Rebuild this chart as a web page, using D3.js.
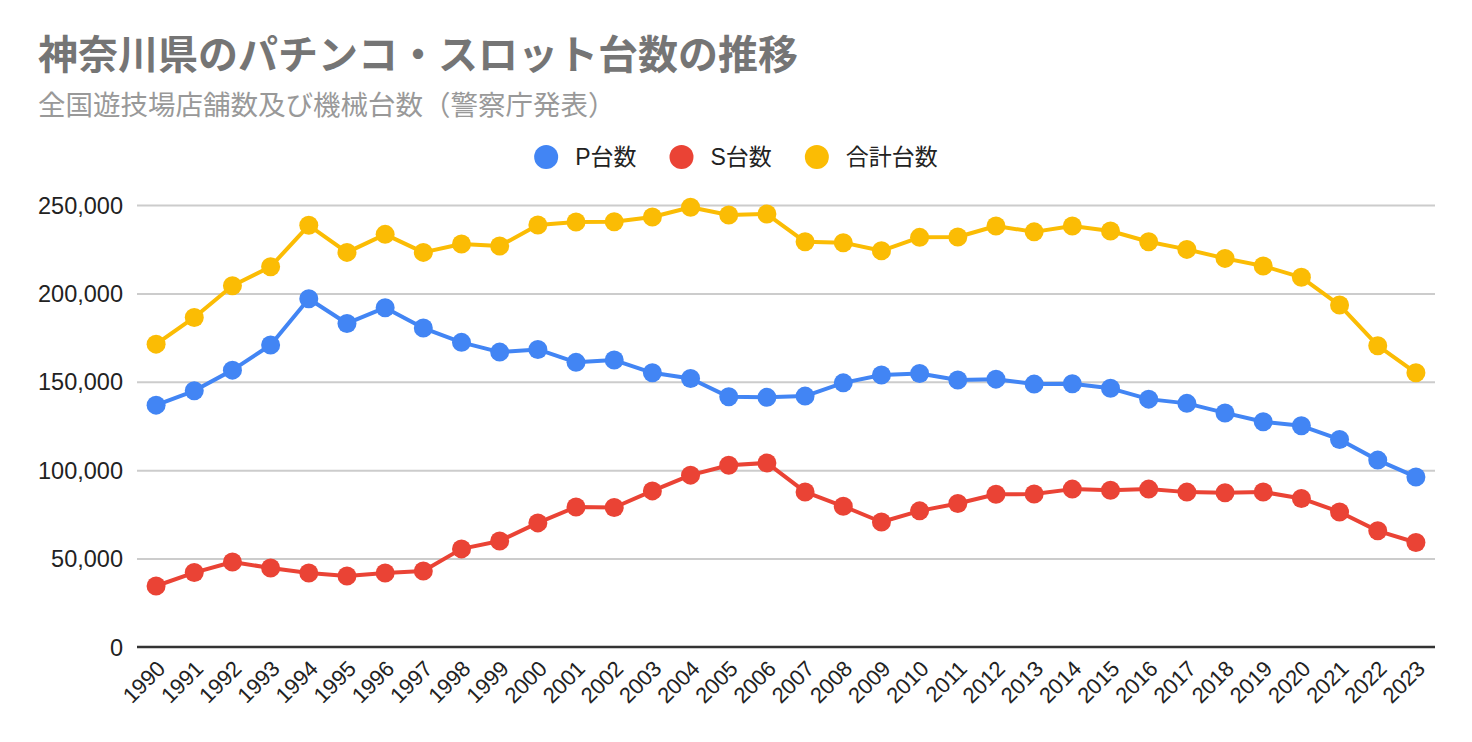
<!DOCTYPE html>
<html>
<head>
<meta charset="utf-8">
<script src="https://cdn.jsdelivr.net/npm/d3@7"></script>
<style>
  html, body { margin: 0; padding: 0; background: #fff; }
  svg { display: block; }
</style>
</head>
<body>
<svg id="chart" width="1472" height="742"></svg>
<script>
const years = ["1990","1991","1992","1993","1994","1995","1996","1997","1998","1999","2000","2001","2002","2003","2004","2005","2006","2007","2008","2009","2010","2011","2012","2013","2014","2015","2016","2017","2018","2019","2020","2021","2022","2023"];
const pValues = [136800,144900,156600,170800,197000,183000,191900,180400,172300,166800,168300,161000,162300,155100,151900,141500,141200,141900,149400,153800,154700,151000,151500,148700,148900,146300,140200,137800,132400,127400,125100,117400,105700,96200];
const sValues = [34500,42100,48100,44700,41900,40200,41900,43000,55500,60000,70200,79200,78900,88300,97200,102800,104100,87700,79600,70700,77000,81200,86400,86500,89300,88700,89300,87600,87200,87700,84000,76400,65700,59100];
const totalValues = [171300,186400,204300,215100,238500,223200,233400,223200,227900,226800,238700,240400,240500,243200,248700,244300,244900,229200,228700,224100,231700,231900,238100,234800,238100,235300,229200,224900,219800,215500,209100,193400,170400,155100];
const seriesNames = ["P台数","S台数","合計台数"];
const seriesColors = ["#4285F4","#EA4335","#FBBC04"];
const yTicks = [0,50000,100000,150000,200000,250000];
const titleText = "神奈川県のパチンコ・スロット台数の推移";
const subtitleText = "全国遊技場店舗数及び機械台数（警察庁発表）";

(function () {
const svg = d3.select("#chart");
const FONT = "'Liberation Sans', Arial, 'Noto Sans CJK JP', sans-serif";
const CJK = "'Noto Sans CJK JP', 'Liberation Sans', sans-serif";

const pLeft = 137, pRight = 1435, pTop = 205, pBottom = 647;

const x = d3.scalePoint().domain(years).range([pLeft, pRight]).padding(0.5);
const y = d3.scaleLinear().domain([0, 250000]).range([pBottom, pTop]);

// Title
svg.append("text").attr("x", 38).attr("y", 69)
  .attr("font-family", CJK).attr("font-weight", "bold").attr("font-size", 40)
  .attr("fill", "#757575").text(titleText);
svg.append("text").attr("x", 38).attr("y", 115)
  .attr("font-family", CJK).attr("font-size", 27.5)
  .attr("fill", "#999999").text(subtitleText);

// Gridlines
const yAxis = d3.axisLeft(y).tickValues(yTicks).tickSize(-(pRight - pLeft)).tickPadding(14)
  .tickFormat(d3.format(","));
const gy = svg.append("g").attr("transform", `translate(${pLeft},0)`).call(yAxis);
gy.select(".domain").remove();
gy.selectAll(".tick line").attr("stroke", "#cccccc").attr("stroke-width", 2)
  .attr("stroke-opacity", d => d === 0 ? 0 : 1);
gy.selectAll(".tick text").attr("font-family", FONT).attr("font-size", 23.5)
  .attr("fill", "#222").attr("dy", "0.34em");

// x axis
const xAxis = d3.axisBottom(x).tickSize(0).tickPadding(0);
const gx = svg.append("g").attr("transform", `translate(0,${pBottom})`).call(xAxis);
gx.select(".domain").attr("stroke", "#333").attr("stroke-width", 2.5)
  .attr("d", `M${pLeft},0H${pRight}`);
gx.selectAll(".tick text")
  .attr("font-family", FONT).attr("font-size", 22).attr("fill", "#222")
  .attr("text-anchor", "end")
  .attr("dy", 0).attr("y", 0)
  .attr("transform", "translate(10,23) rotate(-45)");

// Lines and points
const allSeries = [pValues, sValues, totalValues];
const line = d3.line().x((d, i) => x(years[i])).y(d => y(d));
allSeries.forEach((vals, si) => {
  const g = svg.append("g");
  g.append("path").datum(vals).attr("d", line)
    .attr("fill", "none").attr("stroke", seriesColors[si]).attr("stroke-width", 4)
    .attr("stroke-linejoin", "round");
  g.selectAll("circle").data(vals).join("circle")
    .attr("cx", (d, i) => x(years[i])).attr("cy", d => y(d)).attr("r", 9.5)
    .attr("fill", seriesColors[si]);
});

// Legend
const legend = svg.append("g");
let cur = 0;
seriesNames.forEach((name, i) => {
  const it = legend.append("g");
  it.append("circle").attr("cx", cur + 12).attr("cy", 157).attr("r", 12).attr("fill", seriesColors[i]);
  const t = it.append("text").attr("x", cur + 41).attr("y", 165)
    .attr("font-family", FONT).attr("font-size", 23).attr("fill", "#222").text(name);
  const w = t.node().getComputedTextLength();
  cur = cur + 41 + w + 33;
});
const totalW = cur - 33;
legend.attr("transform", `translate(${736 - totalW / 2},0)`);
})();
</script>
</body>
</html>
